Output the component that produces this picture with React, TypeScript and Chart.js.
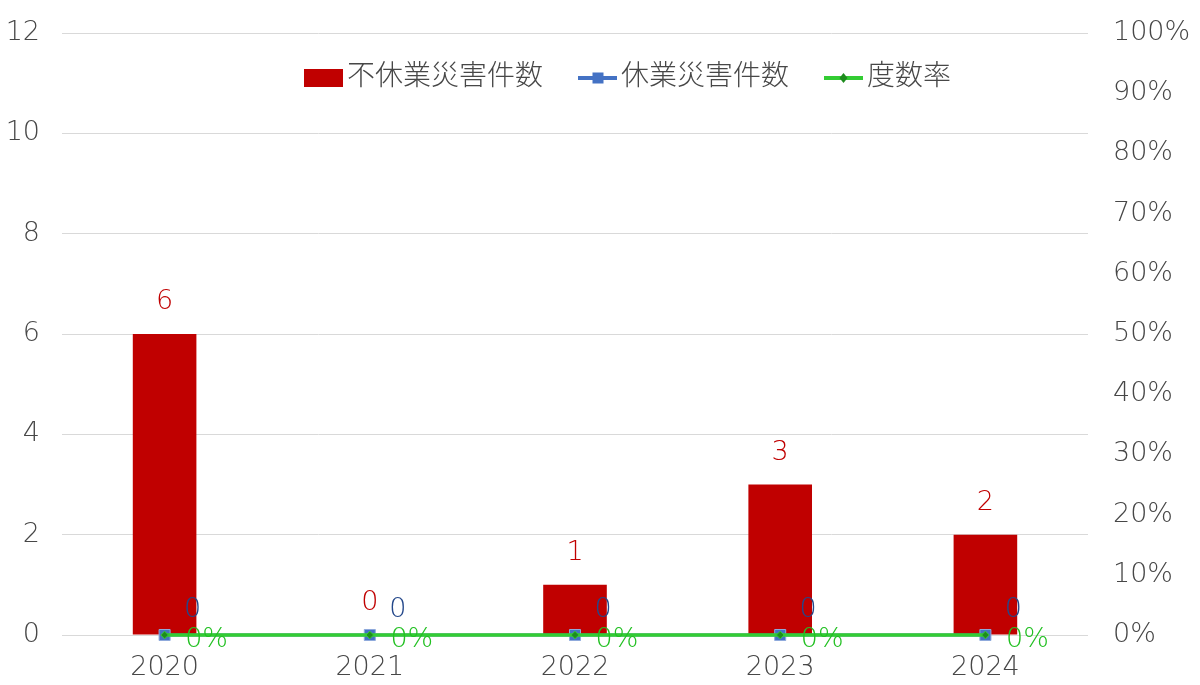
import React, { useEffect, useRef } from "react";
import { Chart, registerables } from "chart.js";

Chart.register(...registerables);

const years = ["2020", "2021", "2022", "2023", "2024"];
const nonLostTime = [6, 0, 1, 3, 2];
const lostTime = [0, 0, 0, 0, 0];
const frequencyRate = [0, 0, 0, 0, 0];

const FONT = '"DejaVu Sans", "Noto Sans CJK JP", sans-serif';
const WEIGHT = "300";
const GREY = "#474747";

const labelPlugin = {
	id: "valueLabels",
	afterDatasetsDraw(chart: any) {
		const ctx = chart.ctx;
		ctx.save();
		ctx.font = `${WEIGHT} 27px ${FONT}`;
		ctx.textBaseline = "middle";
		ctx.textAlign = "center";
		chart.data.datasets.forEach((ds: any, i: number) => {
			const meta = chart.getDatasetMeta(i);
			meta.data.forEach((el: any, j: number) => {
				const v = ds.data[j];
				if (i === 0) {
					ctx.fillStyle = "#C00000";
					ctx.fillText(String(v), el.x, el.y - 32);
				} else if (i === 1) {
					ctx.fillStyle = "#23478A";
					ctx.fillText(String(v), el.x + 28, el.y - 25);
				} else {
					ctx.fillStyle = "#22C022";
					ctx.fillText(`${Math.round(v * 100)}%`, el.x + 42, el.y + 5);
				}
			});
		});
		ctx.restore();
	},
};

const legendPlugin = {
	id: "innerLegend",
	afterDraw(chart: any) {
		const ctx = chart.ctx;
		ctx.save();
		ctx.font = `${WEIGHT} 28px ${FONT}`;
		ctx.textBaseline = "middle";
		ctx.textAlign = "left";
		const y = 78;
		let x = 304;
		chart.data.datasets.forEach((ds: any, i: number) => {
			if (i === 0) {
				ctx.fillStyle = "#C00000";
				ctx.fillRect(x, y - 9, 39, 18);
			} else {
				ctx.strokeStyle = ds.borderColor;
				ctx.lineWidth = 4;
				ctx.beginPath();
				ctx.moveTo(x, y);
				ctx.lineTo(x + 39, y);
				ctx.stroke();
				ctx.fillStyle = ds.pointBackgroundColor;
				if (i === 1) {
					ctx.fillRect(x + 14.5, y - 5.5, 11, 11);
				} else {
					ctx.beginPath();
					ctx.moveTo(x + 19.5, y - 5);
					ctx.lineTo(x + 23.5, y);
					ctx.lineTo(x + 19.5, y + 5);
					ctx.lineTo(x + 15.5, y);
					ctx.closePath();
					ctx.fill();
				}
			}
			x += 43;
			ctx.fillStyle = GREY;
			ctx.fillText(ds.label, x, y);
			x += ctx.measureText(ds.label).width + 35;
		});
		ctx.restore();
	},
};

const App = () => {
	const chartRef = useRef<HTMLCanvasElement>(null);
	const chartInstance = useRef<Chart | null>(null);

	useEffect(() => {
		document.body.style.margin = "0";
		if (!chartRef.current) return;
		const ctx = chartRef.current.getContext("2d");
		if (!ctx) return;

		if (chartInstance.current) {
			chartInstance.current.destroy();
		}

		const tickFont = { family: FONT, size: 27, weight: WEIGHT };

		chartInstance.current = new Chart(ctx, {
			type: "bar",
			data: {
				labels: years,
				datasets: [
					{
						type: "bar",
						label: "不休業災害件数",
						data: nonLostTime,
						backgroundColor: "#C00000",
						barPercentage: 0.31,
						categoryPercentage: 1,
						yAxisID: "y",
						order: 3,
					},
					{
						type: "line",
						label: "休業災害件数",
						data: lostTime,
						borderColor: "#4472C4",
						borderWidth: 3,
						pointStyle: "rect",
						pointRadius: 7.8,
						pointBackgroundColor: "#4472C4",
						pointBorderColor: "#8FAADC",
						pointBorderWidth: 1,
						yAxisID: "y",
						clip: false,
						order: 2,
					},
					{
						type: "line",
						label: "度数率",
						data: frequencyRate,
						borderColor: "#33CC33",
						borderWidth: 3.5,
						pointStyle: "rectRot",
						pointRadius: 3.8,
						pointBackgroundColor: "#1E8C1E",
						pointBorderColor: "#33CC33",
						pointBorderWidth: 1,
						yAxisID: "y1",
						clip: false,
						order: 1,
					},
				] as any,
			},
			options: {
				animation: false,
				responsive: true,
				maintainAspectRatio: false,
				layout: { padding: { top: 33, bottom: 0, left: 0, right: 0 } },
				plugins: {
					legend: { display: false },
					tooltip: { enabled: false },
				},
				scales: {
					x: {
						offset: true,
						grid: { display: false },
						border: { display: false },
						ticks: { color: GREY, font: tickFont, padding: 9 },
						afterFit: (s: any) => {
							s.height = 50;
						},
					},
					y: {
						position: "left",
						min: 0,
						max: 12,
						ticks: {
							stepSize: 2,
							color: GREY,
							font: tickFont,
							padding: 22,
						},
						grid: { color: "#D9D9D9", lineWidth: 1, drawTicks: false },
						border: { display: false },
						afterFit: (s: any) => {
							s.width = 62;
							s.paddingTop = 0;
							s.paddingBottom = 0;
						},
					},
					y1: {
						position: "right",
						min: 0,
						max: 1,
						ticks: {
							stepSize: 0.1,
							color: GREY,
							font: tickFont,
							padding: 25,
							callback: (v: any) => `${Math.round(Number(v) * 100)}%`,
						},
						grid: { display: false, drawTicks: false },
						border: { display: false },
						afterFit: (s: any) => {
							s.width = 112;
							s.paddingTop = 0;
							s.paddingBottom = 0;
						},
					},
				},
			},
			plugins: [labelPlugin, legendPlugin],
		});

		return () => {
			if (chartInstance.current) {
				chartInstance.current.destroy();
				chartInstance.current = null;
			}
		};
	}, []);

	return (
		<div style={{ width: 1200, height: 685, position: "relative" }}>
			<canvas ref={chartRef} />
		</div>
	);
};

export default App;
